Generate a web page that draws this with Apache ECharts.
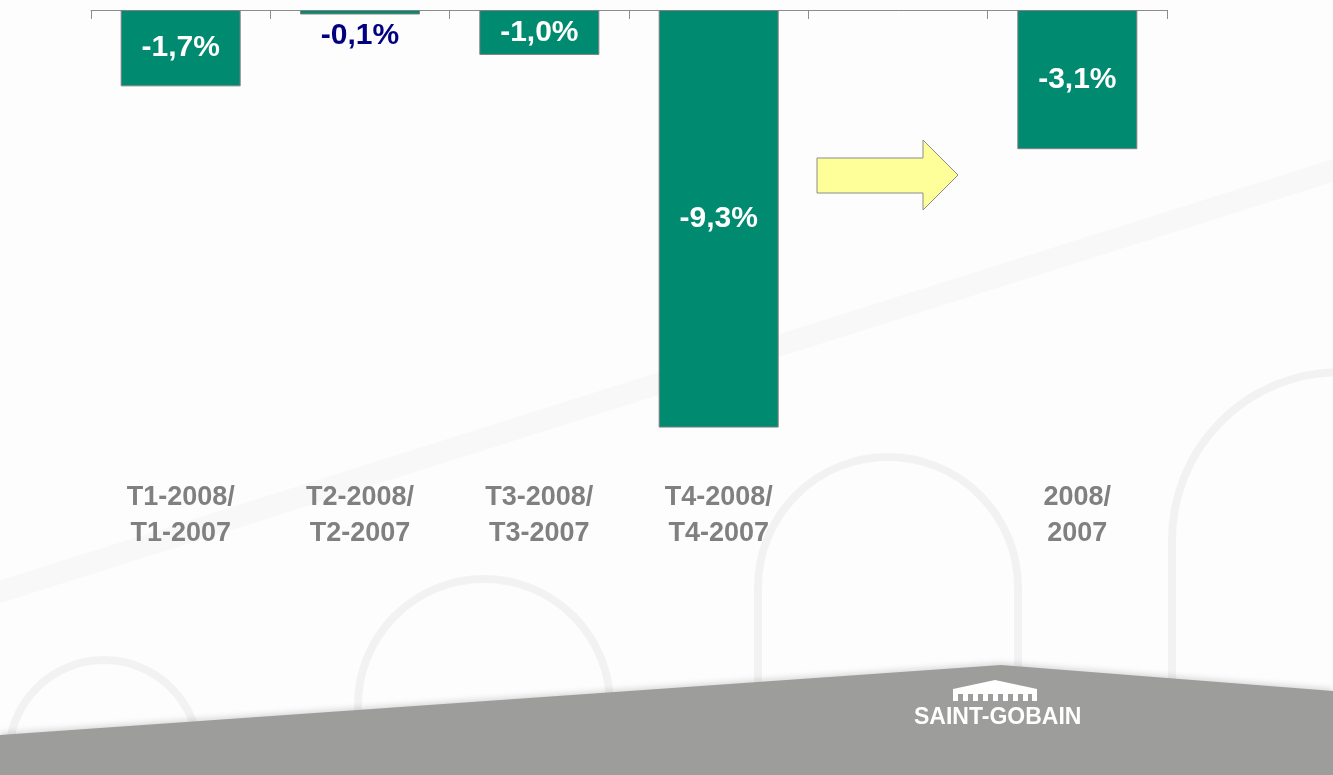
<!DOCTYPE html>
<html lang="fr">
<head>
    <meta charset="UTF-8">
    <title>Evolution</title>
    <style>
        *{margin: 0; padding: 0;}
        body,html{width: 100%; height: 100%; background: #fdfdfd;}
        #chart{width: 1333px; height: 775px;}
    </style>
</head>
<body>
<div id="chart"></div>
<script src="https://cdn.jsdelivr.net/npm/echarts@6/dist/echarts.min.js"></script>
<script>
    // categories (5th slot is left empty in the original)
    var categories = ['T1-2008/\nT1-2007', 'T2-2008/\nT2-2007', 'T3-2008/\nT3-2007', 'T4-2008/\nT4-2007', '', '2008/\n2007'];
    var values = [-1.7, -0.1, -1.0, -9.3, null, -3.1];
    var valueLabels = ['-1,7%', '-0,1%', '-1,0%', '-9,3%', '', '-3,1%'];

    var green = '#008a6f';
    var font = 'Arial, "Liberation Sans", sans-serif';

    var seriesData = [];
    for (var i = 0; i < values.length; i++) {
        var item = {value: values[i] === null ? '-' : values[i]};
        if (values[i] === -0.1) {
            item.label = {color: '#000080', offset: [0, 23]};
        }
        seriesData.push(item);
    }

    // arches drawn as background decoration
    var archStyle = {
        fill: null, stroke: 'rgba(0,0,0,0.045)', lineWidth: 8,
        shadowBlur: 18, shadowColor: 'rgba(0,0,0,0.12)'
    };
    function arch(cx, cy, r, bottom) {
        return [
            {type: 'arc', z: -4, silent: true, shape: {cx: cx, cy: cy, r: r, startAngle: Math.PI, endAngle: 2 * Math.PI}, style: archStyle},
            {type: 'line', z: -4, silent: true, shape: {x1: cx - r, y1: cy, x2: cx - r, y2: bottom}, style: archStyle},
            {type: 'line', z: -4, silent: true, shape: {x1: cx + r, y1: cy, x2: cx + r, y2: bottom}, style: archStyle}
        ];
    }

    var graphics = [{
        type: 'line', z: -5, silent: true,
        shape: {x1: -20, y1: 598, x2: 1360, y2: 162},
        style: {stroke: 'rgba(0,0,0,0.02)', lineWidth: 22, shadowBlur: 16, shadowColor: 'rgba(0,0,0,0.03)'}
    }];
    graphics = graphics.concat(arch(104, 755, 95, 780), arch(484, 705, 126, 780),
        arch(888, 587, 130, 780), arch(1340, 540, 168, 780));

    graphics.push({
        type: 'polygon', z: -3, silent: true,
        shape: {points: [[0, 735], [1001, 665], [1333, 691], [1333, 775], [0, 775]]},
        style: {fill: '#9d9d9c', shadowBlur: 6, shadowColor: 'rgba(0,0,0,0.15)', shadowOffsetY: -2}
    });
    // arrow
    graphics.push({
        type: 'polygon', silent: true,
        shape: {points: [[817, 158], [923, 158], [923, 140], [958, 175], [923, 210], [923, 193], [817, 193]]},
        style: {fill: '#ffff99', stroke: '#8c8c8c', lineWidth: 1}
    });
    // logo: roof and columns
    graphics.push({
        type: 'polygon', silent: true,
        shape: {points: [[953, 689], [995, 680], [1037, 689], [1037, 694], [953, 694]]},
        style: {fill: '#ffffff'}
    });
    var legX = [953, 963, 973, 983, 993, 1003, 1013, 1023, 1032];
    for (var k = 0; k < legX.length; k++) {
        graphics.push({
            type: 'rect', silent: true,
            shape: {x: legX[k], y: 692, width: 5, height: 9},
            style: {fill: '#ffffff'}
        });
    }
    graphics.push({
        type: 'text', silent: true,
        left: 914, top: 706,
        style: {text: 'SAINT-GOBAIN', fill: '#ffffff', font: 'bold 23px Arial, "Liberation Sans", sans-serif'}
    });

    var option = {
        backgroundColor: '#fdfdfd',
        animation: false,
        grid: {left: 91, right: 166, top: 10, bottom: 316, containLabel: false},
        xAxis: [{
            type: 'category',
            position: 'top',
            data: categories,
            axisLine: {lineStyle: {color: '#8c8c8c', width: 1}},
            axisTick: {show: true, inside: true, length: 9, lineStyle: {color: '#8c8c8c'}},
            axisLabel: {show: false}
        }, {
            type: 'category',
            position: 'bottom',
            data: categories,
            axisLine: {show: false},
            axisTick: {show: false},
            axisLabel: {
                margin: 21,
                color: '#808080',
                fontFamily: font,
                fontWeight: 'bold',
                fontSize: 27,
                lineHeight: 36,
                interval: 0
            }
        }],
        yAxis: {
            type: 'value',
            min: -10,
            max: 0,
            show: false,
            splitLine: {show: false}
        },
        graphic: graphics,
        series: [{
            type: 'bar',
            xAxisIndex: 0,
            barWidth: 120,
            data: seriesData,
            itemStyle: {color: green, borderColor: '#808080', borderWidth: 1},
            label: {
                show: true,
                position: 'inside',
                color: '#ffffff',
                fontFamily: font,
                fontWeight: 'bold',
                fontSize: 30,
                formatter: function (p) {
                    return valueLabels[p.dataIndex];
                }
            }
        }]
    };

    var myChart = echarts.init(document.getElementById('chart'));
    myChart.setOption(option);
</script>
</body>
</html>
